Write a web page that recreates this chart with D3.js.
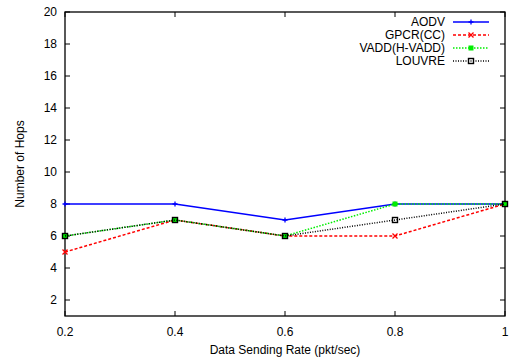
<!DOCTYPE html>
<html>
<head>
<meta charset="utf-8">
<script src="https://cdn.jsdelivr.net/npm/d3@7"></script>
<style>
  body { margin: 0; background: #fff; }
  svg { display: block; font-family: "Liberation Sans", Arial, sans-serif; }
</style>
</head>
<body>
<div id="chart"></div>
<script>
// data
const rates = [0.2, 0.4, 0.6, 0.8, 1];
const aodv = [8, 8, 7, 8, 8];
const gpcr = [5, 7, 6, 6, 8];
const vadd = [6, 7, 6, 8, 8];
const louvre = [6, 7, 6, 7, 8];
const xTicks = [0.2, 0.4, 0.6, 0.8, 1];
const yTicks = [2, 4, 6, 8, 10, 12, 14, 16, 18, 20];

const series = [
  { name: "AODV", values: aodv, color: "#0000ff", dash: null, marker: "plus" },
  { name: "GPCR(CC)", values: gpcr, color: "#ff0000", dash: "3,2", marker: "cross" },
  { name: "VADD(H-VADD)", values: vadd, color: "#00ee00", dash: "1.5,1.5", marker: "fsquare" },
  { name: "LOUVRE", values: louvre, color: "#000000", dash: "1,1.5", marker: "osquare" }
];

const width = 509, height = 358;
const m = { left: 65, right: 4, top: 12, bottom: 42 };

const svg = d3.select("#chart").append("svg")
  .attr("width", width).attr("height", height);

const x = d3.scaleLinear().domain([0.2, 1]).range([m.left, width - m.right]);
const y = d3.scaleLinear().domain([1, 20]).range([height - m.bottom, m.top]);

const tickLen = 5;
const g = svg.append("g");

// frame
g.append("rect")
  .attr("x", x(0.2)).attr("y", y(20))
  .attr("width", x(1) - x(0.2)).attr("height", y(1) - y(20))
  .attr("fill", "none").attr("stroke", "#000").attr("stroke-width", 1.3);

// inward ticks, mirrored
yTicks.forEach(t => {
  g.append("line").attr("x1", x(0.2)).attr("x2", x(0.2) + tickLen)
    .attr("y1", y(t)).attr("y2", y(t)).attr("stroke", "#000");
  g.append("line").attr("x1", x(1)).attr("x2", x(1) - tickLen)
    .attr("y1", y(t)).attr("y2", y(t)).attr("stroke", "#000");
  g.append("text").attr("x", x(0.2) - 8).attr("y", y(t)).attr("dy", "0.35em")
    .attr("text-anchor", "end").attr("font-size", 12).text(t);
});
xTicks.forEach(t => {
  g.append("line").attr("x1", x(t)).attr("x2", x(t))
    .attr("y1", y(1)).attr("y2", y(1) - tickLen).attr("stroke", "#000");
  g.append("line").attr("x1", x(t)).attr("x2", x(t))
    .attr("y1", y(20)).attr("y2", y(20) + tickLen).attr("stroke", "#000");
  g.append("text").attr("x", x(t)).attr("y", y(1) + 16).attr("dy", "0.35em")
    .attr("text-anchor", "middle").attr("font-size", 12).text(d3.format("~g")(t));
});

// axis titles
svg.append("text").attr("x", (x(0.2) + x(1)) / 2).attr("y", 350).attr("dy", "0.35em")
  .attr("text-anchor", "middle").attr("font-size", 12).text("Data Sending Rate (pkt/sec)");
svg.append("text").attr("transform", `translate(20,${(y(1) + y(20)) / 2}) rotate(-90)`)
  .attr("dy", "0.35em").attr("text-anchor", "middle").attr("font-size", 12).text("Number of Hops");

const line = d3.line().x((d, i) => x(rates[i])).y(d => y(d));

function drawMarker(sel, type, color, cx, cy) {
  const s = 2.5;
  if (type === "plus") {
    sel.append("path").attr("d", `M${cx - s},${cy}H${cx + s}M${cx},${cy - s}V${cy + s}`)
      .attr("stroke", color).attr("stroke-width", 1.3).attr("fill", "none");
  } else if (type === "cross") {
    sel.append("path").attr("d", `M${cx - s},${cy - s}L${cx + s},${cy + s}M${cx - s},${cy + s}L${cx + s},${cy - s}`)
      .attr("stroke", color).attr("stroke-width", 1.3).attr("fill", "none");
  } else if (type === "fsquare") {
    sel.append("rect").attr("x", cx - s).attr("y", cy - s).attr("width", 2 * s).attr("height", 2 * s)
      .attr("fill", color);
  } else {
    sel.append("rect").attr("x", cx - s).attr("y", cy - s).attr("width", 2 * s).attr("height", 2 * s)
      .attr("fill", "none").attr("stroke", color).attr("stroke-width", 1.4);
  }
}

const plot = svg.append("g");
series.forEach(s => {
  plot.append("path").datum(s.values)
    .attr("d", line).attr("fill", "none")
    .attr("stroke", s.color).attr("stroke-width", 1.5)
    .attr("stroke-dasharray", s.dash);
  s.values.forEach((v, i) => drawMarker(plot, s.marker, s.color, x(rates[i]), y(v)));
});

// legend
const legend = svg.append("g");
series.forEach((s, i) => {
  const ly = 22 + i * 13;
  legend.append("text").attr("x", 445).attr("y", ly).attr("dy", "0.35em")
    .attr("text-anchor", "end").attr("font-size", 12).text(s.name);
  legend.append("line").attr("x1", 453).attr("x2", 489).attr("y1", ly).attr("y2", ly)
    .attr("stroke", s.color).attr("stroke-width", 1.5)
    .attr("stroke-dasharray", s.dash);
  drawMarker(legend, s.marker, s.color, 471, ly);
});
</script>
</body>
</html>
